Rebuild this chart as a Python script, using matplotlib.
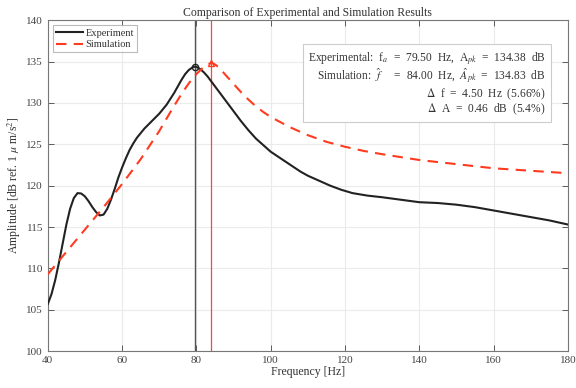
import matplotlib
matplotlib.use("Agg")
import matplotlib.pyplot as plt

plt.rcParams['font.family'] = ['Liberation Serif', 'DejaVu Serif']
plt.rcParams['mathtext.fontset'] = 'stix'

# Experimental data
exp_freq = [40, 41, 42, 43, 44, 45, 46, 47, 48, 49, 50, 51, 52, 53, 54, 55, 56, 57, 58, 59,
            60, 61, 62, 63, 64, 66, 68, 70, 72, 73, 74, 75, 76, 77, 78, 79, 79.5, 80, 81,
            82, 83, 84, 85, 86, 87, 88, 89, 90, 92, 94, 96, 98, 100, 102, 105, 108, 110,
            113, 116, 119, 122, 126, 130, 135, 140, 145, 150, 155, 160, 165, 170, 175, 180]
exp_amp = [105.7, 106.9, 108.6, 110.7, 113.0, 115.3, 117.2, 118.5, 119.1, 119.05, 118.7,
           118.1, 117.4, 116.8, 116.4, 116.5, 117.2, 118.3, 119.6, 121.0, 122.2, 123.3,
           124.3, 125.1, 125.8, 126.9, 127.8, 128.7, 129.8, 130.5, 131.2, 132.0, 132.8,
           133.5, 134.0, 134.3, 134.38, 134.35, 134.1, 133.7, 133.2, 132.6, 132.0, 131.4,
           130.8, 130.2, 129.6, 129.0, 127.8, 126.7, 125.7, 124.9, 124.1, 123.5, 122.6,
           121.7, 121.2, 120.6, 120.0, 119.5, 119.1, 118.8, 118.6, 118.3, 118.0, 117.9,
           117.7, 117.4, 117.0, 116.6, 116.2, 115.8, 115.3]

# Simulation data
sim_freq = [40, 45, 50, 55, 60, 65, 70, 73, 76, 78, 80, 82, 83, 84, 85, 86, 88, 90, 92,
            94, 96, 98, 100, 105, 110, 115, 120, 125, 130, 140, 150, 160, 170, 180]
sim_amp = [109.3, 112.0, 114.7, 117.4, 120.2, 123.2, 126.6, 128.9, 131.1, 132.4, 133.5,
           134.35, 134.65, 134.83, 134.65, 134.3, 133.3, 132.3, 131.3, 130.4, 129.6,
           128.9, 128.3, 127.1, 126.1, 125.3, 124.7, 124.2, 123.8, 123.1, 122.6, 122.1,
           121.8, 121.5]

f_exp, a_exp = 79.5, 134.38
f_sim, a_sim = 84.0, 134.83

fig = plt.figure(figsize=(5.76, 3.88), dpi=100)
ax = fig.add_axes([0.083, 0.095, 0.903, 0.853])

ax.axvline(f_exp, color='#555555', lw=1.0, zorder=1)
ax.axvline(f_sim, color='#ff4444', lw=0.9, zorder=1)

ax.plot(exp_freq, exp_amp, color='#222222', lw=1.5, label='Experiment', zorder=3)
ax.plot(sim_freq, sim_amp, color='#ff3b1f', lw=1.5, ls=(0, (5, 3.5)), label='Simulation', zorder=3)
ax.plot([f_exp], [a_exp], marker='o', ms=4.5, mfc='none', mec='#222222', mew=1.0, zorder=4)
ax.plot([f_sim], [a_sim], marker='^', ms=5, mfc='none', mec='#ff3b1f', mew=1.0, zorder=4)

ax.set_xlim(40, 180)
ax.set_ylim(100, 140)
ax.set_xticks(range(40, 181, 20))
ax.set_yticks(range(100, 141, 5))
ax.grid(True, color='#ebebeb', lw=0.8)
ax.set_axisbelow(True)
ax.tick_params(direction='in', top=True, right=True, labelsize=8, colors='#444444',
               length=4, width=0.6)
for s in ax.spines.values():
    s.set_color('#777777')
    s.set_linewidth(0.8)

ax.set_title('Comparison of Experimental and Simulation Results', fontsize=8.5, color='#333333', pad=3)
ax.set_xlabel('Frequency [Hz]', fontsize=8.5, color='#333333', labelpad=1)
ax.set_ylabel(r'Amplitude [dB ref. 1 $\mu$ m/s$^2$]', fontsize=8.5, color='#333333', labelpad=2)

leg = ax.legend(loc='upper left', fontsize=7.5, frameon=True, fancybox=False,
                edgecolor='#aaaaaa', borderpad=0.3, handlelength=2.6, labelspacing=0.2,
                handletextpad=0.2, borderaxespad=0.5)
leg.get_frame().set_linewidth(0.8)
for t in leg.get_texts():
    t.set_color('#333333')

txt = (r'Experimental:  f$_a$  =  79.50  Hz,  A$_{pk}$  =  134.38  dB' + '\n' +
       r'Simulation:  $\hat{f}$     =  84.00  Hz,  $\hat{A}_{pk}$  =  134.83  dB' + '\n' +
       r'$\Delta$  f  =  4.50  Hz  (5.66%)' + '\n' +
       r'$\Delta$  A  =  0.46  dB  (5.4%)')
ax.text(0.957, 0.91, txt, transform=ax.transAxes, ha='right', va='top',
        multialignment='right', fontsize=8.3, color='#333333', linespacing=1.0,
        bbox=dict(boxstyle='square,pad=0.45', fc='white', ec='#cccccc', lw=0.8))

fig.savefig('out.png', dpi=100)
